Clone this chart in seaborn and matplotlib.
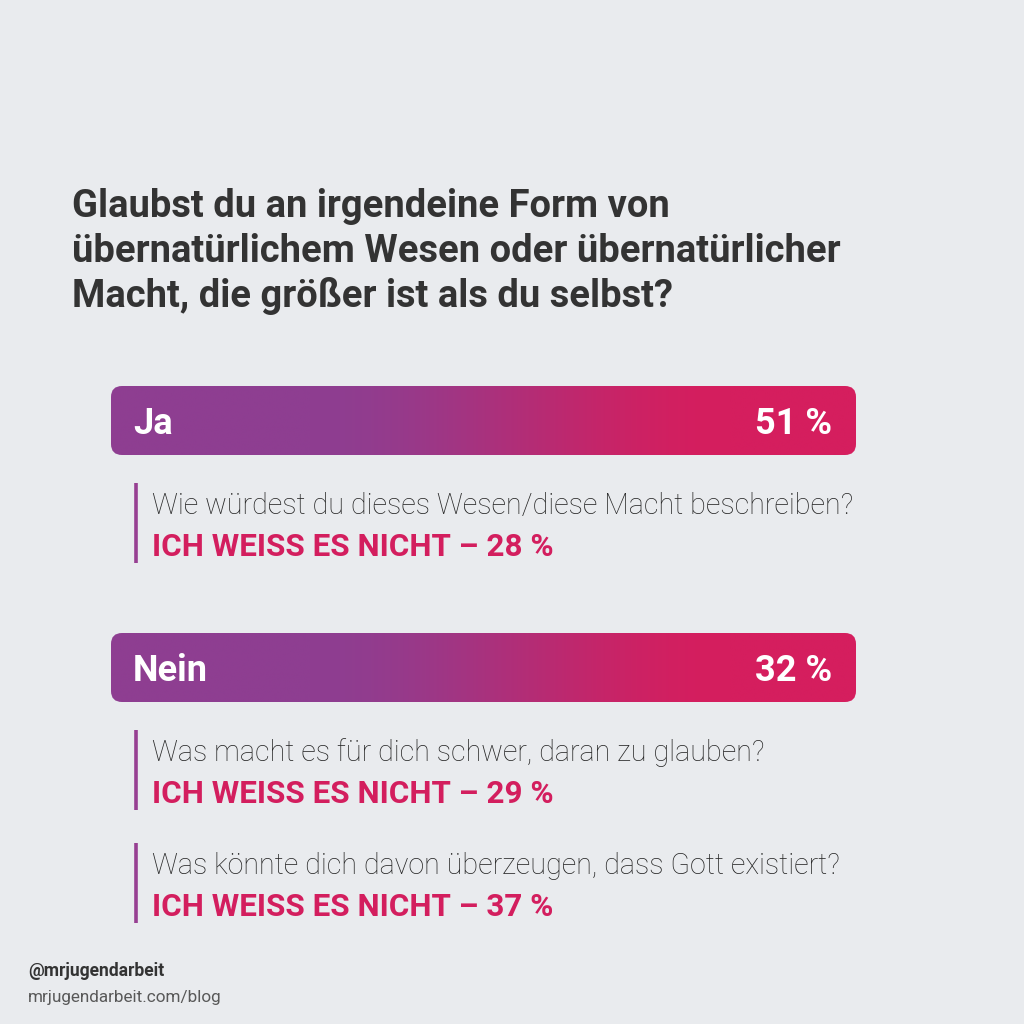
import numpy as np
import matplotlib
matplotlib.use("Agg")
import matplotlib.pyplot as plt
import seaborn as sns
from matplotlib.patches import FancyBboxPatch

# ---------------- data ----------------
title_lines = ["Glaubst du an irgendeine Form von",
               "übernatürlichem Wesen oder übernatürlicher",
               "Macht, die größer ist als du selbst?"]
answers = ["Ja", "Nein"]
answer_shares = [51, 32]
followup_questions = ["Wie würdest du dieses Wesen/diese Macht beschreiben?",
                      "Was macht es für dich schwer, daran zu glauben?",
                      "Was könnte dich davon überzeugen, dass Gott existiert?"]
followup_answer = "ICH WEISS ES NICHT"
followup_shares = [28, 29, 37]
footer_handle = "@mrjugendarbeit"
footer_url = "mrjugendarbeit.com/blog"

# ---------------- style / layout ----------------
sns.set_theme(style="white")
plt.rcParams['font.family'] = ['Roboto', 'DejaVu Sans']

BG = "#e9ebee"
DARK = "#333333"
QCOL = "#262626"
PURPLE = np.array([142, 62, 145]) / 255
PINK = np.array([213, 30, 94]) / 255
ACCENT = "#d31e5e"

fig = plt.figure(figsize=(10.24, 10.24), dpi=100, facecolor=BG)
ax = fig.add_axes([0, 0, 1, 1])
ax.set_xlim(0, 1024)
ax.set_ylim(1024, 0)
ax.axis("off")
ax.set_facecolor(BG)

renderer = fig.canvas.get_renderer()


def fit_text(x, y, s, target_w, **kw):
    t = ax.text(x, y, s, **kw)
    bb = t.get_window_extent(renderer=renderer)
    t.set_fontsize(t.get_fontsize() * target_w / bb.width)
    return t


# title
title_base = [217, 262, 307]
title_texts = [ax.text(72, title_base[i], line, fontsize=24.5, fontweight="bold",
                       color=DARK, va="baseline", ha="left")
               for i, line in enumerate(title_lines)]
w = max(t.get_window_extent(renderer=renderer).width for t in title_texts)
for t in title_texts:
    t.set_fontsize(t.get_fontsize() * 766 / w)

# banners
banner_top = [386, 633]
banner_h = 69
bx0, bx1 = 111, 856
N = 600
xs = np.linspace(bx0, bx1, N)
tt = np.clip((xs - 310) / (730 - 310), 0, 1)
tt = tt * tt * (3 - 2 * tt)
grad = (PURPLE[None, :] * (1 - tt[:, None]) + PINK[None, :] * tt[:, None])[None, :, :]

for i, (lab, share) in enumerate(zip(answers, answer_shares)):
    y0 = banner_top[i]
    y1 = y0 + banner_h
    patch = FancyBboxPatch((bx0, y0), bx1 - bx0, banner_h,
                           boxstyle="round,pad=0,rounding_size=11",
                           facecolor="none", edgecolor="none")
    ax.add_patch(patch)
    im = ax.imshow(grad, extent=(bx0, bx1, y1, y0), aspect="auto",
                   interpolation="bilinear", zorder=1)
    im.set_clip_path(patch)
    base = y0 + 48
    ax.text(133, base, lab, fontsize=26, fontweight="bold", color="white",
            va="baseline", ha="left", zorder=3)
    ax.text(832, base, f"{share} %", fontsize=26, fontweight="bold",
            color="white", va="baseline", ha="right", zorder=3)
ax.set_xlim(0, 1024)
ax.set_ylim(1024, 0)

# follow-ups
fu_top = [483, 730, 843]
q_texts, a_texts = [], []
for i, (q, share) in enumerate(zip(followup_questions, followup_shares)):
    y0 = fu_top[i]
    ax.plot([136, 136], [y0, y0 + 80], color="#973f92", lw=2.6,
            solid_capstyle="butt", zorder=2)
    q_texts.append(ax.text(152, y0 + 31, q, fontsize=20, fontweight="light",
                           color=QCOL, va="baseline", ha="left"))
    a_texts.append(ax.text(152, y0 + 73, f"{followup_answer} – {share} %",
                           fontsize=21, fontweight="bold", color=ACCENT,
                           va="baseline", ha="left"))

qw = q_texts[0].get_window_extent(renderer=renderer).width
aw = a_texts[0].get_window_extent(renderer=renderer).width
for t in q_texts:
    t.set_fontsize(t.get_fontsize() * 700 / qw)
for t in a_texts:
    t.set_fontsize(t.get_fontsize() * 401 / aw)

# footer
fit_text(28, 976, footer_handle, 136, fontsize=12, fontweight="bold",
         color=DARK, va="baseline", ha="left")
fit_text(28, 1002, footer_url, 194, fontsize=12, fontweight="normal",
         color="#585858", va="baseline", ha="left")

fig.savefig("out.png", dpi=100, facecolor=BG)
